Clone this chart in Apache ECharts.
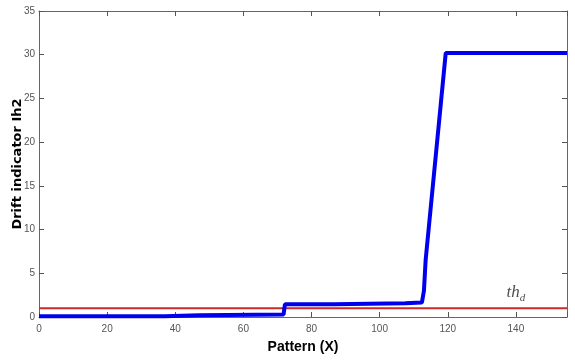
<!DOCTYPE html>
<html><head><meta charset="utf-8">
<script src="https://cdn.jsdelivr.net/npm/echarts@6/dist/echarts.min.js"></script>
<style>html,body{margin:0;padding:0;background:#fff}#c{width:575px;height:362px}</style>
</head><body><div id="c"></div>
<script>
// Drift indicator Ih2 vs pattern
const patternX = [0, 37, 37.5, 47, 47.5, 71.8, 72.2, 86.5, 87, 107.5, 108, 112.4, 113, 113.5, 119.4, 155];
const driftIh2 = [0.08, 0.08, 0.2, 0.2, 0.3, 0.3, 1.45, 1.45, 1.56, 1.56, 1.65, 1.65, 3.0, 6.5, 30.2, 30.2];
const thresholdX = [0, 155];
const thresholdY = [1.0, 1.0];
const thLabelPos = [[140, 1.0]];
const xTicks = [0, 20, 40, 60, 80, 100, 120, 140];
const yTicks = [0, 5, 10, 15, 20, 25, 30, 35];

const chart = echarts.init(document.getElementById('c'), null, {renderer: 'canvas'});
const tickFont = {color: '#555', fontSize: 10, fontFamily: 'Liberation Sans Narrow, Arial Narrow, Liberation Sans, sans-serif'};
const axLine = {show: true, onZero: false, lineStyle: {color: '#666', width: 1}};
const ticksIn = {show: true, inside: true, length: 5, lineStyle: {color: '#555'}};
chart.setOption({
  animation: false,
  grid: {left: 39, right: 8, top: 11, bottom: 45, containLabel: false, outerBoundsMode: 'none'},
  xAxis: [{
    type: 'value', min: 0, max: 155, interval: 20, position: 'bottom',
    axisLine: axLine, axisTick: ticksIn, splitLine: {show: false},
    axisLabel: Object.assign({margin: 7, formatter: v => xTicks.includes(v) ? String(v) : ''}, tickFont),
    name: 'Pattern (X)', nameLocation: 'middle', nameGap: 23, nameMoveOverlap: false,
    nameTextStyle: {fontSize: 14, fontWeight: 'bold', color: '#000', fontFamily: 'Liberation Sans Narrow, Arial Narrow, sans-serif'}
  }, {
    type: 'value', min: 0, max: 155, interval: 20, position: 'top',
    axisLine: axLine, axisTick: ticksIn, axisLabel: {show: false}, splitLine: {show: false}
  }],
  yAxis: [{
    type: 'value', min: 0, max: 35, interval: 5, position: 'left',
    axisLine: axLine, axisTick: ticksIn, splitLine: {show: false},
    axisLabel: Object.assign({margin: 4, formatter: v => yTicks.includes(v) ? String(v) : ''}, tickFont),
    name: 'Drift indicator Ih2', nameLocation: 'middle', nameGap: 15, nameMoveOverlap: false,
    nameTextStyle: {fontSize: 13, fontWeight: 'bold', color: '#000', fontFamily: 'DejaVu Sans, Liberation Sans, sans-serif'}
  }, {
    type: 'value', min: 0, max: 35, interval: 5, position: 'right',
    axisLine: axLine, axisTick: ticksIn, axisLabel: {show: false}, splitLine: {show: false}
  }],
  series: [{
    type: 'line', data: thresholdX.map((x, i) => [x, thresholdY[i]]),
    showSymbol: false, lineStyle: {color: '#cc2a2a', width: 2}, z: 2
  }, {
    type: 'line', data: patternX.map((x, i) => [x, driftIh2[i]]),
    showSymbol: false, lineStyle: {color: '#0000ee', width: 4}, z: 3
  }, {
    type: 'scatter', data: thLabelPos, symbolSize: 0, silent: true,
    label: {
      show: true, position: 'top', distance: 5,
      formatter: '{a|th}{b|d}',
      rich: {
        a: {fontFamily: 'Liberation Serif, Times New Roman, serif', fontStyle: 'italic', fontSize: 17, color: '#222'},
        b: {fontFamily: 'Liberation Serif, Times New Roman, serif', fontStyle: 'italic', fontSize: 11, color: '#222', padding: [10, 0, 0, 0]}
      }
    }
  }, {
    type: 'line', xAxisIndex: 1, yAxisIndex: 1, data: [], showSymbol: false
  }]
});
</script></body></html>
